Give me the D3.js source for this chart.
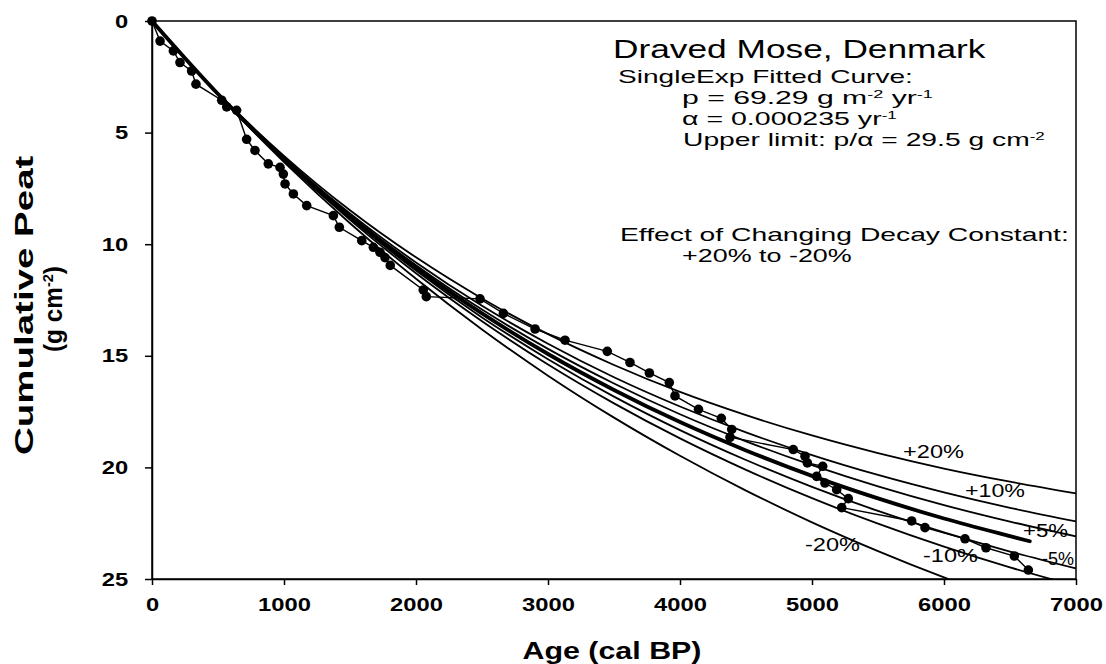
<!DOCTYPE html>
<html><head><meta charset="utf-8">
<script src="https://cdn.jsdelivr.net/npm/d3@7/dist/d3.min.js"></script>
<style>
body{margin:0;background:#fff}
svg{display:block}
text{font-family:"Liberation Sans",Arial,Helvetica,sans-serif;fill:#000}
</style>
</head><body>
<svg id="chart" width="1106" height="664"></svg>
<script>
// ---------- data ----------
const curveAges = [0,500,1000,1500,2000,2500,3000,3500,4000,4500,5000,5500,6000,6500,7000];
const plus20  = [0,3.23,6.04,8.48,10.59,12.43,14.03,15.41,16.62,17.66,18.57,19.36,20.05,20.64,21.16];
const plus10  = [0,3.25,6.11,8.62,10.82,12.76,14.46,15.96,17.27,18.43,19.45,20.34,21.12,21.81,22.42];
const plus5   = [0,3.26,6.14,8.69,10.94,12.93,14.69,16.24,17.62,18.83,19.90,20.85,21.69,22.43,23.09];
const minus5  = [0,3.28,6.21,8.83,11.18,13.28,15.15,16.83,18.33,19.67,20.87,21.95,22.91,23.77,24.53];
const minus10 = [0,3.29,6.25,8.91,11.30,13.45,15.39,17.13,18.70,20.11,21.38,22.52,23.55,24.48,25.31];
const minus20 = [0,3.31,6.32,9.06,11.55,13.82,15.89,17.77,19.48,21.04,22.46,23.75,24.93,26.00,27.0];
const fittedAges = [0,500,1000,1500,2000,2500,3000,3500,4000,4500,5000,5500,6000,6500,6650];
const fitted  = [0,3.27,6.18,8.76,11.06,13.10,14.92,16.53,17.97,19.24,20.38,21.39,22.29,23.08,23.31];

const obsAge  = [0,61,162,212,300,333,528,566,641,717,780,881,970,995,1008,1071,1172,1374,1419,1589,1677,1727,1765,1805,2055,2078,2485,2662,2902,3129,3449,3621,3768,3919,3962,4140,4313,4392,4379,4858,4947,4965,5081,5035,5098,5187,5275,5225,5755,5856,6159,6318,6533,6639];
const obsPeat = [0,0.9,1.34,1.86,2.24,2.83,3.55,3.85,4.0,5.3,5.8,6.4,6.56,6.86,7.3,7.75,8.27,8.72,9.24,9.84,10.14,10.36,10.6,10.95,12.05,12.35,12.45,13.1,13.8,14.3,14.8,15.3,15.77,16.2,16.8,17.4,17.8,18.3,18.65,19.2,19.5,19.8,19.95,20.4,20.7,21.0,21.4,21.8,22.4,22.7,23.2,23.6,23.97,24.6];

const curveLabels = ["+20%","+10%","+5%","-5%","-10%","-20%"];
const xTicks = [0,1000,2000,3000,4000,5000,6000,7000];
const yTicks = [0,5,10,15,20,25];

// ---------- layout ----------
const L = 152, R = 1076, T = 21, B = 579;
const svg = d3.select("#chart");
const x = d3.scaleLinear().domain([0,7000]).range([L,R]);
const y = d3.scaleLinear().domain([0,25]).range([T,B]);

svg.append("defs").append("clipPath").attr("id","plotclip")
  .append("rect").attr("x",L).attr("y",T).attr("width",R-L).attr("height",B-T);

// frame
svg.append("rect").attr("x",L).attr("y",T).attr("width",R-L).attr("height",B-T)
  .attr("fill","none").attr("stroke","#000").attr("stroke-width",1.5);

// axes
const gx = svg.append("g").attr("transform",`translate(0,${B})`)
  .call(d3.axisBottom(x).tickValues(xTicks).tickSize(6).tickSizeOuter(0).tickPadding(13).tickFormat(d3.format("d")));
const gy = svg.append("g").attr("transform",`translate(${L},0)`)
  .call(d3.axisLeft(y).tickValues(yTicks).tickSize(7).tickSizeOuter(0).tickPadding(12).tickFormat(d3.format("d")));
[gx,gy].forEach(g=>{
  g.selectAll("path,line").attr("stroke","#000").attr("stroke-width",1.5);
  g.selectAll("text").attr("font-size",19).attr("font-weight","bold")
    .attr("font-family",'"Liberation Sans",Arial,sans-serif').attr("fill","#000")
    .attr("transform","scale(1.25,1)");
});

// curves
const line = d3.line().x(d=>x(d[0])).y(d=>y(d[1])).curve(d3.curveMonotoneX);
const cg = svg.append("g").attr("clip-path","url(#plotclip)");
[plus20,plus10,plus5,minus5,minus10,minus20].forEach(vals=>{
  cg.append("path").attr("d",line(curveAges.map((a,i)=>[a,vals[i]])))
    .attr("fill","none").attr("stroke","#000").attr("stroke-width",1.8);
});
cg.append("path").attr("d",line(fittedAges.map((a,i)=>[a,fitted[i]])))
  .attr("fill","none").attr("stroke","#000").attr("stroke-width",3.8).attr("stroke-linecap","round");

// observed data
const obs = obsAge.map((a,i)=>[a,obsPeat[i]]);
svg.append("path").attr("d",d3.line().x(d=>x(d[0])).y(d=>y(d[1]))(obs))
  .attr("fill","none").attr("stroke","#000").attr("stroke-width",1.4);
svg.selectAll("circle.obs").data(obs).enter().append("circle").attr("class","obs")
  .attr("cx",d=>x(d[0])).attr("cy",d=>y(d[1])).attr("r",4.8).attr("fill","#000");

// ---------- stretched text helper ----------
function stext(px,py,parts,o){
  const g = svg.append("g");
  const t = g.append("text").attr("font-size",o.size).attr("font-weight",o.weight||"normal");
  const sup = o.size*0.6, sh = o.size*0.36;
  let raised=false;
  parts.forEach(p=>{
    if(typeof p==="string"){ const s=t.append("tspan").text(p); if(raised){s.attr("dy",sh);raised=false;} }
    else { t.append("tspan").attr("font-size",sup).attr("dy",-sh).text(p.sup); raised=true; }
  });
  const w = t.node().getBBox().width;
  const sx = o.width ? o.width/w : 1;
  const sy = o.sy || 1;
  if(o.rotate){
    g.attr("transform",`translate(${px},${py}) rotate(-90) scale(${sx},${sy}) translate(${-w/2},0)`);
  } else {
    const off = o.anchor==="middle" ? -w/2 : 0;
    g.attr("transform",`translate(${px},${py}) scale(${sx},${sy}) translate(${off},0)`);
  }
  return g;
}

// annotation box text
stext(613,58,["Draved Mose, Denmark"],{size:26,width:374});
stext(618,83,["SingleExp Fitted Curve:"],{size:19,width:295});
stext(682,104,["p = 69.29 g m",{sup:"-2"}," yr",{sup:"-1"}],{size:18,width:251});
stext(682,125,["\u03b1 = 0.000235 yr",{sup:"-1"}],{size:18,width:215});
stext(683,146,["Upper limit: p/\u03b1 = 29.5 g cm",{sup:"-2"}],{size:18,width:362});
stext(620,241,["Effect of Changing Decay Constant:"],{size:19,width:449});
stext(682,262,["+20% to -20%"],{size:19,width:170});

// curve labels
const labelPos = [[903,458,61],[965,497,60],[1023,537,45],[1042,565,32],[923,562,55],[805,551,55]];
curveLabels.forEach((lab,i)=>{
  const p = labelPos[i];
  stext(p[0],p[1],[lab],{size:18,width:p[2]});
});

// axis titles
stext(612,659,["Age (cal BP)"],{size:24,weight:"bold",width:179,anchor:"middle"});
stext(33,305,["Cumulative Peat"],{size:23,weight:"bold",width:300,rotate:true,sy:1.15});
stext(62,309,["(g cm",{sup:"-2"},")"],{size:23,weight:"bold",width:86,rotate:true,sy:1.1});
</script>
</body></html>
